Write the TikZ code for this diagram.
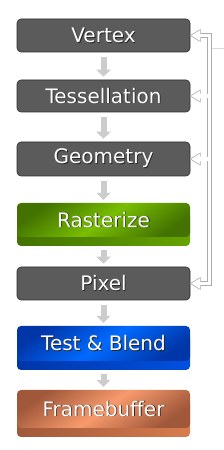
\documentclass[tikz,border=0pt]{standalone}
\usepackage{fontspec}
\setmainfont{DejaVu Sans}
\usetikzlibrary{arrows.meta,calc}

\definecolor{boxgray}{HTML}{5B5B5B}
\definecolor{boxedge}{HTML}{2E2E2E}
\definecolor{greenlo}{HTML}{437200}
\definecolor{greenhi}{HTML}{78BE00}
\definecolor{greenledge}{HTML}{64A400}
\definecolor{bluelo}{HTML}{0036A8}
\definecolor{bluehi}{HTML}{006AFF}
\definecolor{blueledge}{HTML}{0050E0}
\definecolor{orangelo}{HTML}{A0583A}
\definecolor{orangehi}{HTML}{F89A6C}
\definecolor{orangeledge}{HTML}{D87C4C}

\newcommand\shtext[1]{\leavevmode\rlap{\kern0.9pt\raisebox{-0.9pt}{\color{black!85}#1}}#1}

\tikzset{
  stage/.style={minimum width=173pt, inner sep=0pt, rounded corners=4pt,
    text=white, font=\fontsize{20}{23}\selectfont},
  graystage/.style={stage, fill=boxgray, draw=boxedge, line width=0.6pt, minimum height=#1},
  colorstage/.style args={#1/#2/#3/#4}{stage, minimum height=#4,
    preaction={left color=#1, right color=#3, transform canvas={yshift=-9pt}},
    top color=#1, bottom color=#1, middle color=#2, shading angle=35},
  flow/.style={draw=gray!40, line width=6pt, shorten <=5pt, shorten >=3pt,
    -{Triangle[width=14pt,length=7pt]}},
  hollow/.style={draw=gray!65, line width=0.6pt, double=white, double distance=3.5pt},
  headline/.style={draw=gray!65, line width=0.6pt, fill=white},
  thinlink/.style={draw=gray!30, line width=0.6pt}
}

\newcommand\feedhead[1]{%
  \filldraw[headline] ($(#1.east)+(10,2.3)$) -- ++(0,3.7) -- (#1.east) -- ++(10,-6) -- ++(0,3.7);
}

\begin{document}
\begin{tikzpicture}[x=1pt,y=1pt]
\useasboundingbox[fill=white] (0,0) rectangle (224,450);

\node[graystage=33pt] (vertex) at (103.5,414.5) {\shtext{Vertex}};
\node[graystage=32pt] (tess) at (103.5,354) {\shtext{Tessellation}};
\node[graystage=34pt] (geom) at (103.5,291) {\shtext{Geometry}};
\node[colorstage={greenlo/greenhi/greenledge/34pt}] (raster) at (103.5,230) {\shtext{Rasterize}};
\node[graystage=33pt] (pixel) at (103.5,166.5) {\shtext{Pixel}};
\node[colorstage={bluelo/bluehi/blueledge/35pt}] (blend) at (103.5,106.5) {\shtext{Test \& Blend}};
\node[colorstage={orangelo/orangehi/orangeledge/38pt}] (fbuf) at (103.5,41) {\shtext{Framebuffer}};

% pipeline arrows
\draw[flow] (vertex) -- (tess);
\draw[flow] (tess) -- (geom);
\draw[flow] (geom) -- (raster);
\draw[flow, shorten <=13pt] (raster) -- (pixel);
\draw[flow] (pixel) -- (blend);
\draw[flow, shorten <=13pt] (blend) -- (fbuf);

% feedback
\coordinate (bus) at (209.5,0);
\coordinate (offpage) at (224,402);
\draw[thinlink] (offpage) -- (bus |- offpage);
\draw[hollow] ($(vertex.east)+(10,0)$) -- (bus |- vertex.east) -- (bus |- pixel.east) -- ($(pixel.east)+(10,0)$)
  ($(tess.east)+(10,0)$) -- (bus |- tess.east)
  ($(geom.east)+(10,0)$) -- (bus |- geom.east);
\feedhead{vertex}
\feedhead{tess}
\feedhead{geom}
\feedhead{pixel}
\end{tikzpicture}
\end{document}
